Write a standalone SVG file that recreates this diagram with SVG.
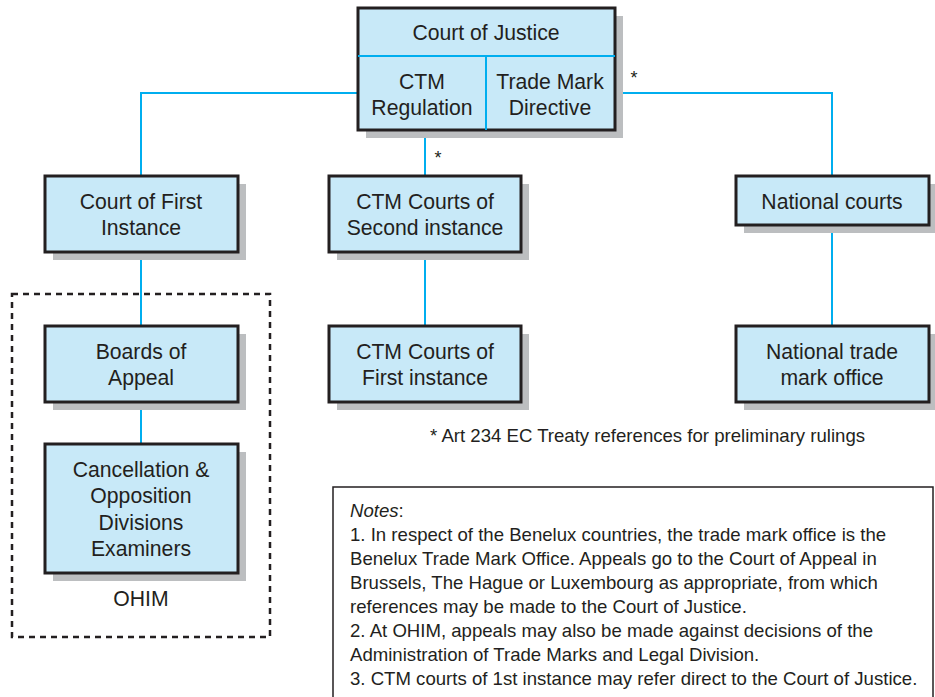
<svg xmlns="http://www.w3.org/2000/svg" width="935" height="697" viewBox="0 0 935 697">
<style>
.sh{fill:#bcbec0}
.bx{fill:#c8e9f8;stroke:#231f20;stroke-width:3}
.t{font-family:"Liberation Sans",Arial,sans-serif;font-size:21.2px;fill:#231f20;text-anchor:middle}
.n{font-family:"Liberation Sans",Arial,sans-serif;font-size:18.6px;fill:#231f20}
.c{stroke:#00aeef;stroke-width:2;fill:none}
</style>
<rect width="935" height="697" fill="#fff"/>
<g id="connectors">
<path class="c" d="M358 93 H141 V176 M141 252 V326 M141 402 V444 M425 130 V176 M425 252 V326 M615 93 H832 V176 M832 225 V326"/>
</g>
<g id="ohim">
<rect x="12" y="294" width="258" height="343" fill="none" stroke="#231f20" stroke-width="2.5" stroke-dasharray="6,5"/>
<text class="t" x="141" y="606">OHIM</text>
</g>
<g id="court-of-justice">
<rect class="sh" x="366" y="16" width="257" height="122"/>
<rect class="bx" x="358" y="8" width="257" height="122"/>
<line x1="358" y1="56" x2="615" y2="56" stroke="#00aeef" stroke-width="2"/>
<line x1="486" y1="56" x2="486" y2="130" stroke="#00aeef" stroke-width="2"/>
<text class="t" x="486" y="40">Court of Justice</text>
<text class="t" x="422" y="89">CTM</text>
<text class="t" x="422" y="115">Regulation</text>
<text class="t" x="550" y="89">Trade Mark</text>
<text class="t" x="550" y="115">Directive</text>
</g>
<g id="court-first-instance">
<rect class="sh" x="53" y="184" width="193" height="76"/>
<rect class="bx" x="45" y="176" width="193" height="76"/>
<text class="t" x="141" y="209">Court of First</text>
<text class="t" x="141" y="235">Instance</text>
</g>
<g id="ctm-second">
<rect class="sh" x="337" y="184" width="192" height="76"/>
<rect class="bx" x="329" y="176" width="192" height="76"/>
<text class="t" x="425" y="209">CTM Courts of</text>
<text class="t" x="425" y="235">Second instance</text>
</g>
<g id="national-courts">
<rect class="sh" x="744" y="184" width="193" height="49"/>
<rect class="bx" x="736" y="176" width="193" height="49"/>
<text class="t" x="832" y="209">National courts</text>
</g>
<g id="boards-of-appeal">
<rect class="sh" x="53" y="334" width="193" height="76"/>
<rect class="bx" x="45" y="326" width="193" height="76"/>
<text class="t" x="141" y="359">Boards of</text>
<text class="t" x="141" y="385">Appeal</text>
</g>
<g id="ctm-first">
<rect class="sh" x="337" y="334" width="192" height="76"/>
<rect class="bx" x="329" y="326" width="192" height="76"/>
<text class="t" x="425" y="359">CTM Courts of</text>
<text class="t" x="425" y="385">First instance</text>
</g>
<g id="national-tmo">
<rect class="sh" x="744" y="334" width="193" height="76"/>
<rect class="bx" x="736" y="326" width="193" height="76"/>
<text class="t" x="832" y="359">National trade</text>
<text class="t" x="832" y="385">mark office</text>
</g>
<g id="cancellation">
<rect class="sh" x="53" y="452" width="193" height="129"/>
<rect class="bx" x="45" y="444" width="193" height="129"/>
<text class="t" x="141" y="477">Cancellation &amp;</text>
<text class="t" x="141" y="503">Opposition</text>
<text class="t" x="141" y="530">Divisions</text>
<text class="t" x="141" y="556">Examiners</text>
</g>
<text class="t" x="634" y="84" style="font-size:18px">*</text>
<text class="t" x="438" y="164" style="font-size:18px">*</text>
<text class="n" x="430" y="442">* Art 234 EC Treaty references for preliminary rulings</text>
<g id="notes">
<rect x="333" y="487" width="600" height="215" fill="#fff" stroke="#231f20" stroke-width="1.5"/>
<text class="n" x="350" y="517"><tspan font-style="italic">Notes</tspan>:</text>
<text class="n" x="350" y="541">1. In respect of the Benelux countries, the trade mark office is the</text>
<text class="n" x="350" y="565">Benelux Trade Mark Office. Appeals go to the Court of Appeal in</text>
<text class="n" x="350" y="589">Brussels, The Hague or Luxembourg as appropriate, from which</text>
<text class="n" x="350" y="613">references may be made to the Court of Justice.</text>
<text class="n" x="350" y="637">2. At OHIM, appeals may also be made against decisions of the</text>
<text class="n" x="350" y="661">Administration of Trade Marks and Legal Division.</text>
<text class="n" x="350" y="685">3. CTM courts of 1st instance may refer direct to the Court of Justice.</text>
</g>
</svg>
